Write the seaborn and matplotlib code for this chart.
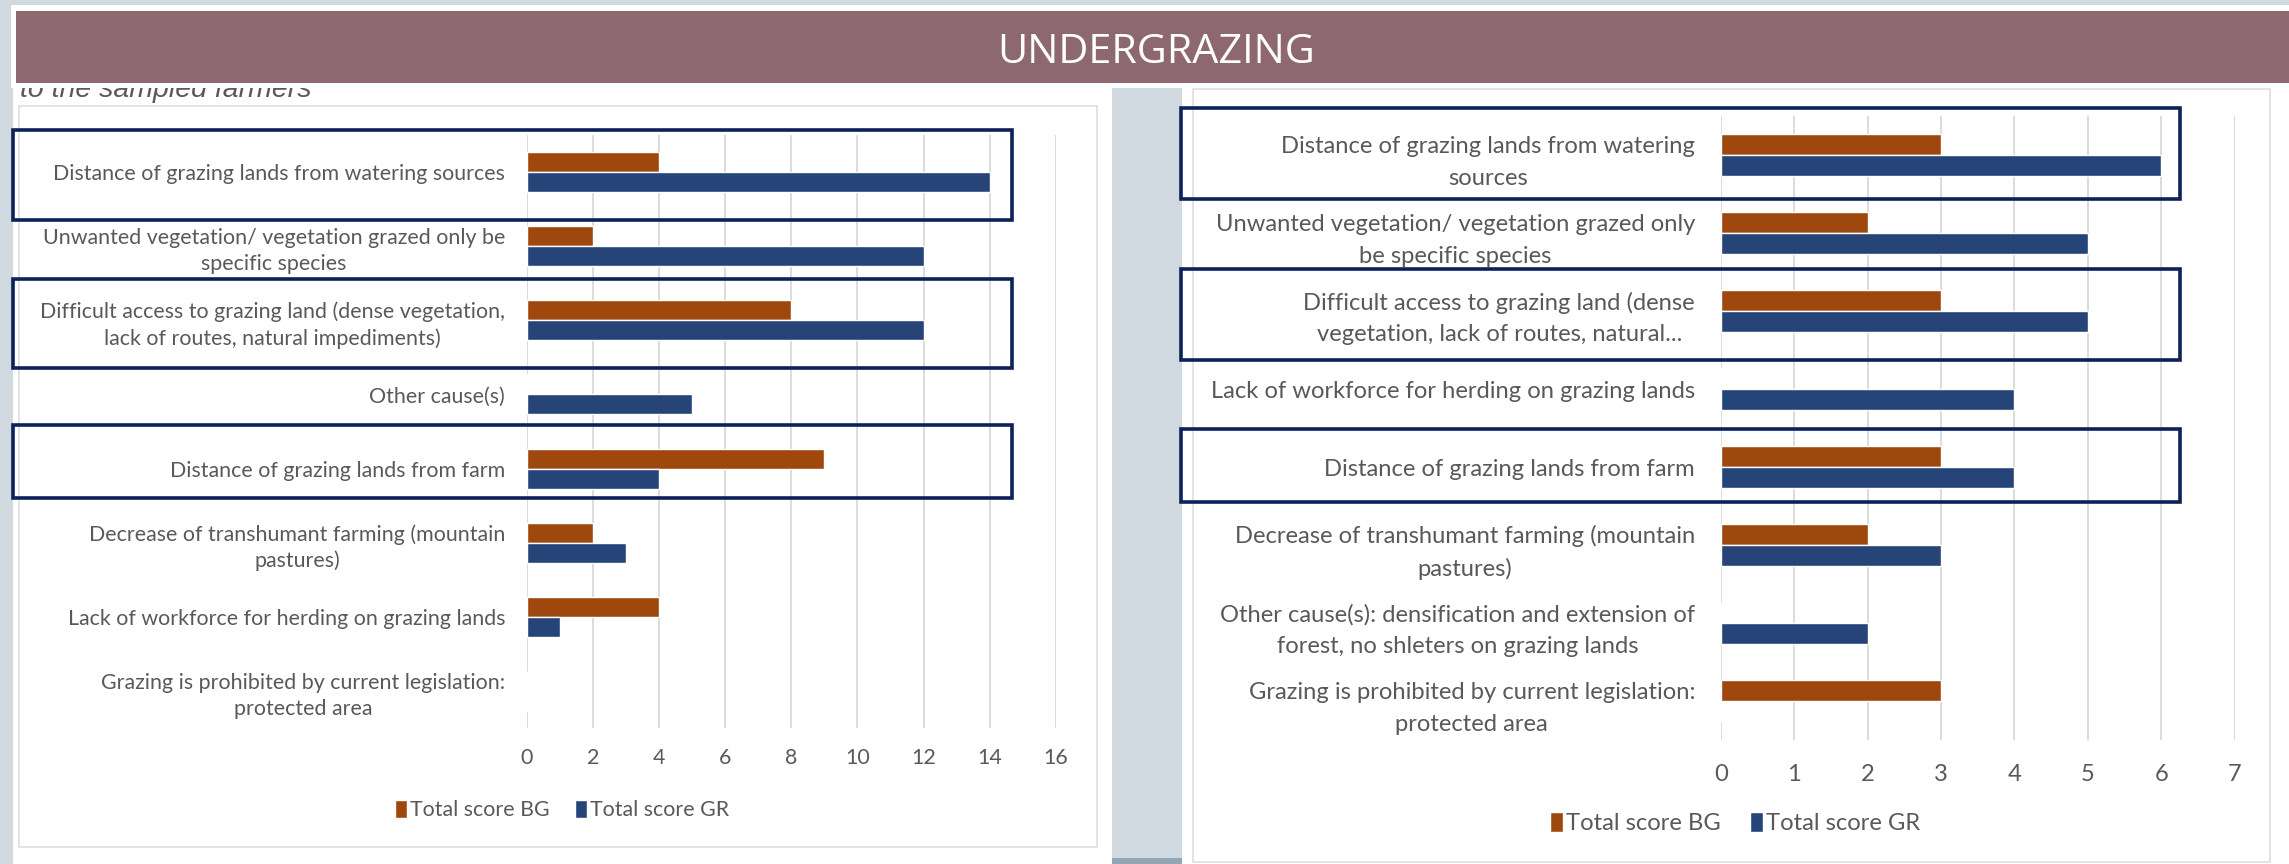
import matplotlib
matplotlib.use("Agg")
import matplotlib.pyplot as plt
import matplotlib.patches as mpatches
import pandas as pd
import seaborn as sns

W, H = 2289, 864
sns.set_theme(style="white")
LABEL_FONT = ["Lato", "DejaVu Sans"]
plt.rcParams["font.family"] = LABEL_FONT

BG_COLOR = "#9e480e"
GR_COLOR = "#264478"
BOX_COLOR = "#0c2157"
TXT = "#595959"
SERIES = ["Total score BG", "Total score GR"]

# ---- left chart data ----
left_causes = [
    "Distance of grazing lands from watering sources",
    "Unwanted vegetation/ vegetation grazed only be\nspecific species",
    "Difficult access to grazing land (dense vegetation,\nlack of routes, natural impediments)",
    "Other cause(s)",
    "Distance of grazing lands from farm",
    "Decrease of transhumant farming (mountain\npastures)",
    "Lack of workforce for herding on grazing lands",
    "Grazing is prohibited by current legislation:\nprotected area",
]
left_bg = [4, 2, 8, 0, 9, 2, 4, 0]
left_gr = [14, 12, 12, 5, 4, 3, 1, 0]
left_ticks = [0, 2, 4, 6, 8, 10, 12, 14, 16]

# ---- right chart data ----
right_causes = [
    "Distance of grazing lands from watering\nsources",
    "Unwanted vegetation/ vegetation grazed only\nbe specific species",
    "Difficult access to grazing land (dense\nvegetation, lack of routes, natural...",
    "Lack of workforce for herding on grazing lands",
    "Distance of grazing lands from farm",
    "Decrease of transhumant farming (mountain\npastures)",
    "Other cause(s): densification and extension of\nforest, no shleters on grazing lands",
    "Grazing is prohibited by current legislation:\nprotected area",
]
right_bg = [3, 2, 3, 0, 3, 2, 0, 3]
right_gr = [6, 5, 5, 4, 4, 3, 2, 0]
right_ticks = [0, 1, 2, 3, 4, 5, 6, 7]


def px_rect(x0, y0, x1, y1):
    """pixel box (top-left origin) -> figure fraction [l, b, w, h]"""
    return [x0 / W, 1 - y1 / H, (x1 - x0) / W, (y1 - y0) / H]


def add_box(fig, x0, y0, x1, y1, z, **kw):
    l, b, w, h = px_rect(x0, y0, x1, y1)
    fig.patches.append(mpatches.Rectangle((l, b), w, h, transform=fig.transFigure,
                                          zorder=z, **kw))


def fit_size(fig, text, width_px, **kw):
    # font size (pt) that makes `text` about width_px wide
    r = fig.canvas.get_renderer()
    t = fig.text(0, 0, text, fontsize=10, **kw)
    w = t.get_window_extent(r).width
    t.remove()
    return 10 * width_px / w


def draw_chart(fig, ax, causes, bg, gr, ticks, fs, ypad, xpad, lsp, legend_xy):
    df = pd.DataFrame({
        "cause": causes * 2,
        "score": bg + gr,
        "series": [SERIES[0]] * len(causes) + [SERIES[1]] * len(causes),
    })
    sns.barplot(data=df, y="cause", x="score", hue="series", order=causes,
                hue_order=SERIES, palette=[BG_COLOR, GR_COLOR], orient="h",
                width=0.54, saturation=1, ax=ax)
    ax.set_xlim(ticks[0], ticks[-1])
    ax.set_ylim(len(causes) - 0.5, -0.5)
    ax.set_xticks(ticks)
    ax.set_xlabel("")
    ax.set_ylabel("")
    ax.set_facecolor("none")
    sns.despine(ax=ax, left=True, bottom=True)
    ax.grid(axis="x", color="#d9d9d9", lw=1.3)
    ax.set_axisbelow(True)
    ax.tick_params(axis="both", length=0, labelcolor=TXT, labelsize=fs)
    ax.tick_params(axis="y", pad=ypad)
    ax.tick_params(axis="x", pad=xpad)
    for t in ax.get_yticklabels():
        t.set_multialignment("center")
        t.set_linespacing(lsp)
    handles, labels = ax.get_legend_handles_labels()
    ax.get_legend().remove()
    fig.legend(handles, labels, loc="center", ncol=2, frameon=False,
               bbox_to_anchor=(legend_xy[0] / W, 1 - legend_xy[1] / H),
               fontsize=fs, labelcolor=TXT, handlelength=0.55, handleheight=0.9,
               handletextpad=0.15, columnspacing=1.2)


fig = plt.figure(figsize=(W / 100, H / 100), dpi=100, facecolor="#d0d8e0")

fs_left = fit_size(fig, left_causes[0], 451)
fs_right = fit_size(fig, right_causes[3], 485)
fs_title = fit_size(fig, "UNDERGRAZING", 318, family=["Open Sans", "DejaVu Sans"])
fs_cap = fit_size(fig, "to the sampled farmers", 292, style="italic",
                  family=["Liberation Sans", "DejaVu Sans"])

# panels and chart frames
add_box(fig, 13, 86, 1112, 864, -3, facecolor="white", edgecolor="none")
add_box(fig, 1182, 83, 2289, 864, -3, facecolor="white", edgecolor="none")
add_box(fig, 19, 106, 1097, 847, -2, facecolor="none", edgecolor="#dedede", lw=1.2)
add_box(fig, 1193, 89, 2270, 862, -2, facecolor="none", edgecolor="#dedede", lw=1.2)
add_box(fig, 1112, 858, 1182, 864, -2, facecolor="#93a6b5", edgecolor="none")

# slide caption partly hidden by the banner
fig.text(20 / W, 1 - 97 / H, "to the sampled farmers", fontsize=fs_cap, style="italic",
         color=TXT, family=["Liberation Sans", "DejaVu Sans"], va="baseline", zorder=1)

# banner
add_box(fig, 11, 5, 2289, 88, 2, facecolor="white", edgecolor="none")
add_box(fig, 16, 11, 2289, 83, 3, facecolor="#8d6870", edgecolor="none")
fig.text(1156 / W, 1 - 63 / H, "UNDERGRAZING", fontsize=fs_title, color="white",
         family=["Open Sans", "DejaVu Sans"], ha="center", va="baseline", zorder=4)

ax_l = fig.add_axes(px_rect(526.6, 135, 1056, 728))
draw_chart(fig, ax_l, left_causes, left_bg, left_gr, left_ticks, fs_left,
           15.5, 14.5, 1.36, (562, 810))

ax_r = fig.add_axes(px_rect(1721, 116, 2234.5, 740))
draw_chart(fig, ax_r, right_causes, right_bg, right_gr, right_ticks, fs_right,
           18.7, 17, 1.63, (1735, 823))

# highlight boxes
for y0, y1 in [(130, 220), (279, 368), (425, 498)]:
    add_box(fig, 12.5, y0, 1012, y1, 5, facecolor="none", edgecolor=BOX_COLOR, lw=2.6)
for y0, y1 in [(108, 199), (269, 360), (429, 502)]:
    add_box(fig, 1181, y0, 2180, y1, 5, facecolor="none", edgecolor=BOX_COLOR, lw=2.6)

fig.savefig("out.png", dpi=100, facecolor=fig.get_facecolor())
